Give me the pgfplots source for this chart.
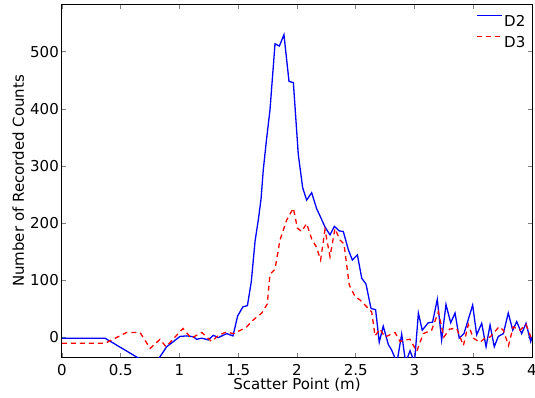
\documentclass[border=0pt]{standalone}
\usepackage{fontspec}
\setmainfont{DejaVu Sans}
\usepackage{pgfplots}
\pgfplotsset{compat=1.18}
\begin{document}
\fontsize{15bp}{18bp}\selectfont
\begin{tikzpicture}
\path[use as bounding box] (-62bp,-41bp) rectangle (473bp,357bp);
\begin{axis}[
  at={(0,0)}, anchor=south west,
  scale only axis, width=470bp, height=352bp,
  xmin=0, xmax=4, ymin=-35, ymax=582,
  xtick={0,0.5,1,1.5,2,2.5,3,3.5,4},
  xticklabels={0,0.5,1,1.5,2,2.5,3,3.5,4},
  ytick={0,100,200,300,400,500},
  tick align=inside, tick pos=both,
  major tick length=4bp,
  every tick/.style={gray, line width=0.6bp},
  axis line style={black, line width=1bp},
  /pgf/number format/assume math mode=true,
  ticklabel style={font=\fontsize{15bp}{18bp}\selectfont},
  xticklabel style={yshift=-2bp, inner ysep=0pt, text depth=0pt, yshift=-5bp},
  yticklabel style={xshift=2bp},
  xlabel={Scatter Point (m)}, ylabel={Number of Recorded Counts},
  label style={font=\fontsize{15bp}{18bp}\selectfont, inner sep=0pt},
  xlabel style={at={(axis description cs:0.5,-0.0925)}, anchor=base},
  ylabel style={at={(axis description cs:-0.0809,0.5)}, anchor=base, rotate=0},
  legend style={draw=none, fill=none, at={(axis description cs:1,1)}, anchor=north east,
    inner xsep=0pt, inner ysep=0pt, xshift=-5bp, yshift=-10bp, row sep=9bp, column sep=0pt,
    font=\fontsize{15bp}{18bp}\selectfont,
    nodes={inner xsep=1.5bp, inner ysep=0pt, text height=11bp, text depth=0bp}},
  legend cell align=left,
  legend image code/.code={\draw[#1] (0bp,5.5bp) -- (25bp,5.5bp);},
]
\addplot[blue, line width=1.3bp] coordinates {
(0,-2) (0.366,-2) (0.70,-43) (0.80,-45) (0.891,-17) (1.004,1) (1.06,2) (1.118,0.5)
(1.146,-4) (1.189,-2) (1.245,-5) (1.288,3) (1.330,-1) (1.401,6) (1.455,2)
(1.495,37) (1.540,53) (1.578,55) (1.611,97) (1.643,168) (1.672,207) (1.694,242)
(1.713,293) (1.740,345) (1.770,398) (1.813,514) (1.850,510) (1.889,530)
(1.932,448) (1.969,446) (2.011,320) (2.048,262) (2.082,240) (2.125,253)
(2.167,225) (2.201,210) (2.238,193) (2.281,179) (2.318,194) (2.360,186)
(2.394,185) (2.437,153) (2.471,135) (2.514,144) (2.551,103) (2.587,93)
(2.630,50) (2.669,48) (2.700,-9) (2.734,19) (2.777,-13) (2.806,-23)
(2.850,-45) (2.891,5) (2.925,-45) (2.962,-24) (3.00,-45) (3.033,42)
(3.066,12) (3.117,25) (3.154,26) (3.194,66) (3.231,-5) (3.268,57)
(3.308,25) (3.345,42) (3.381,-2) (3.421,6) (3.458,31) (3.495,56)
(3.529,4) (3.572,24) (3.609,-17) (3.643,21) (3.679,-17) (3.713,1)
(3.756,6) (3.798,42) (3.836,12) (3.870,27) (3.912,6) (3.949,24)
(3.989,-8) (4.0,0)
};
\addlegendentry{D2}
\addplot[red, line width=1.3bp, dash pattern=on 5bp off 4bp] coordinates {
(0,-11) (0.366,-11) (0.55,8) (0.664,8) (0.75,-20) (0.834,-4) (0.885,-17)
(1.03,15) (1.10,-2) (1.19,8) (1.274,-8) (1.33,3) (1.40,9) (1.458,6)
(1.53,13) (1.572,18) (1.628,30) (1.70,42) (1.747,58) (1.77,110) (1.813,119)
(1.855,170) (1.912,205) (1.969,226) (2.003,191) (2.04,185) (2.082,199)
(2.125,172) (2.167,157) (2.201,135) (2.238,188) (2.281,141) (2.323,190)
(2.366,170) (2.40,163) (2.445,91) (2.494,71) (2.536,65) (2.593,53)
(2.636,44) (2.664,2) (2.706,14) (2.749,0) (2.834,8) (2.877,-8) (2.919,-5)
(2.962,-4) (3.019,-25) (3.075,6) (3.146,12) (3.203,44) (3.25,0) (3.30,14)
(3.359,15) (3.416,-15) (3.458,22) (3.50,-2) (3.557,-9) (3.60,-2) (3.643,0)
(3.72,18) (3.756,12) (3.80,-15) (3.84,18) (3.898,12) (3.949,22) (4.0,-5)
};
\addlegendentry{D3}
\end{axis}
\end{tikzpicture}
\end{document}
